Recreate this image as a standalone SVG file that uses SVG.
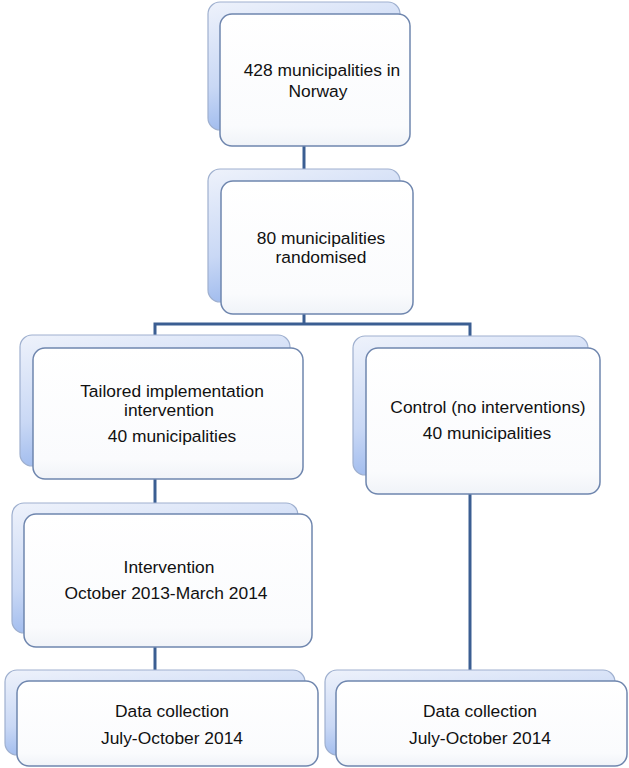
<svg xmlns="http://www.w3.org/2000/svg" width="629" height="768" viewBox="0 0 629 768">
<defs>
<linearGradient id="back" x1="0" y1="0" x2="0.35" y2="1">
<stop offset="0" stop-color="#eef2fb"/>
<stop offset="0.6" stop-color="#c9d8f5"/>
<stop offset="1" stop-color="#97b5ec"/>
</linearGradient>
<linearGradient id="front" x1="0" y1="0" x2="0" y2="1">
<stop offset="0" stop-color="#ffffff"/>
<stop offset="0.85" stop-color="#fafbfd"/>
<stop offset="1" stop-color="#f0f3f8"/>
</linearGradient>
</defs>
<style>
.back{fill:url(#back);stroke:#9fb0cf;stroke-width:1.2}
.front{fill:url(#front);stroke:#6f86ae;stroke-width:1.5}
.conn{stroke:#3b5e92;stroke-width:3;fill:none}
text{font-family:"Liberation Sans",Arial,sans-serif;font-size:17.4px;fill:#111;text-anchor:middle}
</style>
<rect width="629" height="768" fill="#ffffff"/>
<g id="connectors">
<path class="conn" d="M304 146 V182"/>
<path class="conn" d="M304 314 V324 M155 324 H470 M155 322.5 V348 M470 322.5 V348"/>
<path class="conn" d="M155 479 V514"/>
<path class="conn" d="M155 647 V681"/>
<path class="conn" d="M470 494 V681"/>
</g>
<g id="n1">
<rect class="back" x="208" y="2" width="192" height="128" rx="12"/>
<rect class="front" x="220" y="14" width="190" height="132" rx="12"/>
<text x="322" y="76">428 municipalities in</text>
<text x="318" y="97">Norway</text>
</g>
<g id="n2">
<rect class="back" x="208" y="169" width="192" height="133" rx="12"/>
<rect class="front" x="221" y="181" width="192" height="133" rx="12"/>
<text x="321" y="244">80 municipalities</text>
<text x="321" y="263">randomised</text>
</g>
<g id="n3">
<rect class="back" x="20" y="335" width="270" height="131" rx="12"/>
<rect class="front" x="33" y="348" width="270" height="131" rx="12"/>
<text x="172" y="397">Tailored implementation</text>
<text x="169" y="416">intervention</text>
<text x="172" y="442">40 municipalities</text>
</g>
<g id="n4">
<rect class="back" x="353" y="336" width="235" height="139" rx="12"/>
<rect class="front" x="366" y="348" width="234" height="146" rx="12"/>
<text x="488" y="413">Control (no interventions)</text>
<text x="487" y="439">40 municipalities</text>
</g>
<g id="n5">
<rect class="back" x="12" y="503" width="286" height="130" rx="12"/>
<rect class="front" x="24" y="514" width="288" height="133" rx="12"/>
<text x="169" y="573">Intervention</text>
<text x="166" y="599">October 2013-March 2014</text>
</g>
<g id="n6">
<rect class="back" x="5" y="670" width="300" height="85" rx="12"/>
<rect class="front" x="17" y="681" width="301" height="85" rx="12"/>
<text x="172" y="717">Data collection</text>
<text x="172" y="744">July-October 2014</text>
</g>
<g id="n7">
<rect class="back" x="325" y="670" width="290" height="85" rx="12"/>
<rect class="front" x="336" y="681" width="291" height="85" rx="12"/>
<text x="480" y="717">Data collection</text>
<text x="480" y="744">July-October 2014</text>
</g>
</svg>
